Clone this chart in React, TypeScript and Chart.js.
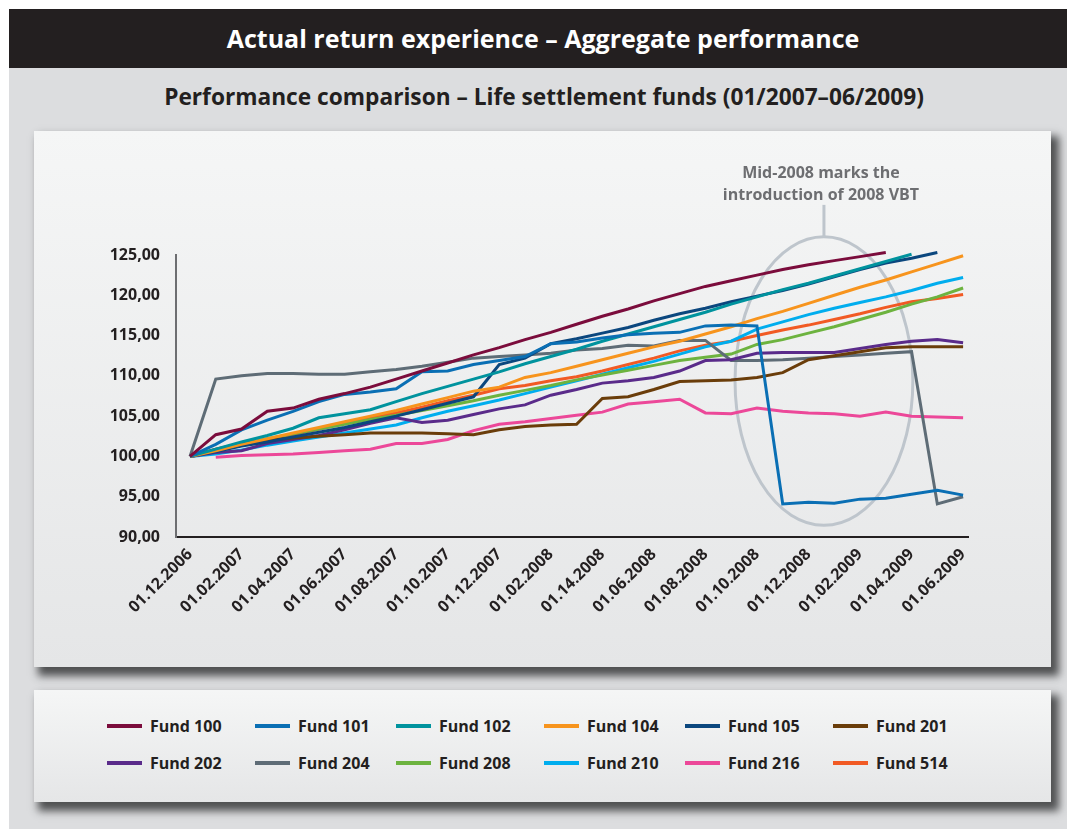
import React, { useEffect, useRef } from "react";
import { Chart, registerables } from "chart.js";

Chart.register(...registerables);

// ---------- data ----------
const months = [
  "01.12.2006", "01.01.2007", "01.02.2007", "01.03.2007", "01.04.2007", "01.05.2007",
  "01.06.2007", "01.07.2007", "01.08.2007", "01.09.2007", "01.10.2007", "01.11.2007",
  "01.12.2007", "01.01.2008", "01.02.2008", "01.03.2008", "01.04.2008", "01.05.2008",
  "01.06.2008", "01.07.2008", "01.08.2008", "01.09.2008", "01.10.2008", "01.11.2008",
  "01.12.2008", "01.01.2009", "01.02.2009", "01.03.2009", "01.04.2009", "01.05.2009",
  "01.06.2009",
];

const xTickValues = [0, 2, 4, 6, 8, 10, 12, 14, 16, 18, 20, 22, 24, 26, 28, 30];
const xTickLabels = [
  "01.12.2006", "01.02.2007", "01.04.2007", "01.06.2007", "01.08.2007", "01.10.2007",
  "01.12.2007", "01.02.2008", "01.14.2008", "01.06.2008", "01.08.2008", "01.10.2008",
  "01.12.2008", "01.02.2009", "01.04.2009", "01.06.2009",
];
const yTickValues = [90, 95, 100, 105, 110, 115, 120, 125];

const fundNames = [
  "Fund 100", "Fund 101", "Fund 102", "Fund 104", "Fund 105", "Fund 201",
  "Fund 202", "Fund 204", "Fund 208", "Fund 210", "Fund 216", "Fund 514",
];

const fund100 = [100, 102.7, 103.4, 105.6, 106.0, 107.1, 107.8, 108.6, 109.6, 110.6, 111.6, 112.6, 113.5, 114.5, 115.4, 116.4, 117.4, 118.3, 119.3, 120.2, 121.1, 121.8, 122.5, 123.2, 123.8, 124.3, 124.8, 125.3, null, null, null];
const fund101 = [100, 101.5, 103.3, 104.5, 105.6, 106.8, 107.7, 108.0, 108.4, 110.5, 110.6, 111.4, 111.9, 112.4, 114.0, 114.2, 114.7, 115.1, 115.3, 115.4, 116.2, 116.3, 116.2, 94.1, 94.3, 94.2, 94.7, 94.8, 95.3, 95.8, 95.2];
const fund102 = [100, 100.9, 101.8, 102.6, 103.5, 104.8, 105.3, 105.8, 106.8, 107.8, 108.7, 109.6, 110.5, 111.5, 112.4, 113.3, 114.3, 115.2, 116.1, 117.0, 117.9, 118.9, 119.8, 120.7, 121.5, 122.4, 123.3, 124.2, 125.1, null, null];
const fund104 = [100, 100.7, 101.5, 102.2, 102.9, 103.6, 104.3, 105.0, 105.7, 106.5, 107.3, 108.1, 108.6, 109.8, 110.4, 111.2, 112.0, 112.8, 113.6, 114.3, 115.2, 116.1, 117.1, 118.0, 119.0, 120.0, 121.0, 121.9, 122.9, 123.9, 124.9];
const fund105 = [100, 100.6, 101.3, 101.8, 102.4, 103.0, 103.6, 104.3, 105.0, 105.8, 106.6, 107.4, 111.4, 112.2, 114.0, 114.6, 115.3, 116.0, 116.9, 117.7, 118.4, 119.2, 119.9, 120.6, 121.4, 122.3, 123.2, 124.0, 124.6, 125.3, null];
const fund201 = [100, 100.9, 101.6, 102.0, 102.3, 102.5, 102.7, 102.9, 102.9, 102.9, 102.8, 102.7, 103.3, 103.7, 103.9, 104.0, 107.2, 107.4, 108.3, 109.3, 109.4, 109.5, 109.8, 110.4, 112.0, 112.5, 113.0, 113.5, 113.6, 113.6, 113.6];
const fund202 = [100, 100.5, 100.7, 101.6, 102.1, 102.6, 103.3, 104.1, 104.8, 104.2, 104.5, 105.2, 105.9, 106.4, 107.6, 108.3, 109.1, 109.4, 109.8, 110.6, 111.9, 112.0, 112.8, 112.9, 112.9, 112.9, 113.4, 113.9, 114.3, 114.5, 114.1];
const fund204 = [100, 109.6, 110.0, 110.3, 110.3, 110.2, 110.2, 110.5, 110.8, 111.2, 111.7, 112.2, 112.4, 112.6, 112.8, 113.2, 113.4, 113.8, 113.7, 114.4, 114.4, 111.9, 111.9, 112.0, 112.2, 112.4, 112.6, 112.8, 113.0, 94.1, 95.0];
const fund208 = [100, 100.8, 101.5, 102.2, 102.8, 103.4, 104.0, 104.6, 105.1, 105.7, 106.3, 106.9, 107.6, 108.2, 108.8, 109.5, 110.1, 110.7, 111.3, 111.9, 112.3, 112.7, 113.9, 114.5, 115.3, 116.1, 117.0, 117.9, 118.9, 119.8, 120.9];
const fund210 = [100, 100.3, 100.8, 101.4, 101.9, 102.4, 102.9, 103.4, 103.9, 104.8, 105.6, 106.3, 107.0, 107.8, 108.6, 109.4, 110.2, 111.0, 111.8, 112.7, 113.6, 114.3, 115.8, 116.7, 117.6, 118.4, 119.1, 119.8, 120.6, 121.5, 122.2];
const fund216 = [null, 99.9, 100.1, 100.2, 100.3, 100.5, 100.7, 100.9, 101.6, 101.6, 102.1, 103.2, 104.0, 104.3, 104.7, 105.1, 105.5, 106.5, 106.8, 107.1, 105.4, 105.3, 106.0, 105.6, 105.4, 105.3, 105.0, 105.5, 105.0, 104.9, 104.8];
const fund514 = [100, 100.7, 101.4, 102.0, 102.7, 103.4, 104.1, 104.8, 105.4, 106.1, 106.9, 107.6, 108.4, 108.8, 109.4, 109.9, 110.6, 111.4, 112.2, 113.1, 113.8, 114.3, 115.0, 115.7, 116.3, 117.0, 117.7, 118.5, 119.2, 119.6, 120.1];

const fundSeries = [fund100, fund101, fund102, fund104, fund105, fund201, fund202, fund204, fund208, fund210, fund216, fund514];

// annotation (in data units)
const noteCenter = { month: 24.6, value: 109.35 };
const noteRadius = { months: 3.45, value: 17.9 };
const noteLines = ["Mid-2008 marks the", "introduction of 2008 VBT"];

// ---------- styles ----------
const fundColors = [
  "#7b0c3c", "#0a6fb4", "#00939e", "#f7941d", "#0b477e", "#6a3d0a",
  "#5a2b8a", "#5e6c76", "#6db33f", "#00adee", "#ec4899", "#f15a24",
];
const FONT = "'Open Sans', 'DejaVu Sans', sans-serif";
const TEXT = "#231f20";

const notePlugin = {
  id: "vbtNote",
  beforeDatasetsDraw(chart: any) {
    const { ctx, scales } = chart;
    const xs = scales.x;
    const ys = scales.y;
    const cx = xs.getPixelForValue(noteCenter.month);
    const cy = ys.getPixelForValue(noteCenter.value);
    const rx = Math.abs(xs.getPixelForValue(noteCenter.month + noteRadius.months) - cx);
    const ry = Math.abs(ys.getPixelForValue(noteCenter.value + noteRadius.value) - cy);
    ctx.save();
    ctx.strokeStyle = "#bec5cc";
    ctx.lineWidth = 3;
    ctx.beginPath();
    ctx.ellipse(cx, cy, rx, ry, 0, 0, Math.PI * 2);
    ctx.stroke();
    const top = cy - ry;
    ctx.beginPath();
    ctx.moveTo(cx, top);
    ctx.lineTo(cx, top - 32);
    ctx.stroke();
    ctx.fillStyle = "#6d6e71";
    ctx.font = `bold 16px ${FONT}`;
    ctx.textAlign = "center";
    ctx.textBaseline = "middle";
    ctx.fillText(noteLines[0], cx - 3, top - 63);
    ctx.fillText(noteLines[1], cx - 3, top - 41);
    ctx.restore();
  },
};

function PerformanceChart() {
  const ref = useRef<HTMLCanvasElement | null>(null);
  useEffect(() => {
    if (!ref.current) return;
    const datasets = fundSeries.map((vals, i) => ({
      label: fundNames[i],
      data: vals.map((v, m) => ({ x: m, y: v })),
      borderColor: fundColors[i],
      backgroundColor: fundColors[i],
      borderWidth: 3,
      pointRadius: 0,
      tension: 0,
      fill: false,
      clip: false,
    }));
    const chart = new Chart(ref.current, {
      type: "line",
      data: { datasets },
      options: {
        animation: false,
        responsive: false,
        maintainAspectRatio: false,
        devicePixelRatio: 1,
        layout: { padding: { left: 0, right: 83, top: 124, bottom: 0 } },
        plugins: { legend: { display: false }, tooltip: { enabled: false } },
        scales: {
          x: {
            type: "linear",
            min: -0.543,
            max: 30.19,
            afterBuildTicks: (s: any) => {
              s.ticks = xTickValues.map((v) => ({ value: v }));
            },
            afterFit: (s: any) => {
              s.height = 130;
            },
            grid: { display: true, drawOnChartArea: false, drawTicks: false },
            border: { display: true, color: "#231f20", width: 2 },
            ticks: {
              autoSkip: false,
              minRotation: 45,
              maxRotation: 45,
              padding: 8,
              color: TEXT,
              font: { family: FONT, size: 16, weight: "bold" },
              callback: (v: any) => {
                const k = xTickValues.indexOf(Math.round(Number(v)));
                return k >= 0 ? xTickLabels[k] : "";
              },
            },
          },
          y: {
            min: 90,
            max: 125,
            afterBuildTicks: (s: any) => {
              s.ticks = yTickValues.map((v) => ({ value: v }));
            },
            afterFit: (s: any) => {
              s.width = 142;
            },
            grid: { display: true, drawOnChartArea: false, drawTicks: false },
            border: { display: true, color: "#6d6e71", width: 2 },
            ticks: {
              padding: 16,
              color: TEXT,
              font: { family: FONT, size: 16, weight: "bold" },
              callback: (v: any) => Number(v).toFixed(2).replace(".", ","),
            },
          },
        },
      },
      plugins: [notePlugin],
    } as any);
    return () => chart.destroy();
  }, []);
  return <canvas ref={ref} width={1017} height={536} style={{ display: "block" }} />;
}

const panelStyle: React.CSSProperties = {
  position: "absolute",
  left: 34,
  width: 1017,
  background: "linear-gradient(#f5f6f6, #e5e6e7)",
  boxShadow: "6px 7px 8px 2px rgba(45,46,48,0.8)",
};

const legendLeft = [73, 221, 362, 510, 651, 799];
const legendRowY = [36, 73];

export default function App() {
  return (
    <div
      style={{
        position: "absolute",
        left: 0,
        top: 0,
        width: 1067,
        height: 829,
        overflow: "hidden",
        background: "#ffffff",
        fontFamily: FONT,
      }}
    >
      <div style={{ position: "absolute", left: 9, top: 9, right: 0, bottom: 0, background: "#dcdddf" }} />
      <div style={{ position: "absolute", left: 9, top: 9, right: 0, height: 59, background: "#231f20" }} />
      <div
        style={{
          position: "absolute",
          left: 0,
          width: 1086,
          top: 9,
          height: 59,
          lineHeight: "59px",
          textAlign: "center",
          color: "#ffffff",
          fontWeight: 700,
          fontSize: 25,
        }}
      >
        Actual return experience – Aggregate performance
      </div>
      <div
        style={{
          position: "absolute",
          left: 0,
          width: 1088,
          top: 80,
          height: 34,
          lineHeight: "34px",
          textAlign: "center",
          color: TEXT,
          fontWeight: 700,
          fontSize: 22.7,
        }}
      >
        Performance comparison – Life settlement funds (01/2007–06/2009)
      </div>
      <div style={{ ...panelStyle, top: 131, height: 536 }}>
        <PerformanceChart />
      </div>
      <div style={{ ...panelStyle, top: 690, height: 112 }}>
        {fundNames.map((name, i) => {
          const col = i % 6;
          const row = Math.floor(i / 6);
          return (
            <div
              key={name}
              style={{
                position: "absolute",
                left: legendLeft[col],
                top: legendRowY[row] - 12,
                height: 24,
                display: "flex",
                alignItems: "center",
                whiteSpace: "nowrap",
              }}
            >
              <span style={{ display: "inline-block", width: 35, height: 4, background: fundColors[i], marginRight: 8 }} />
              <span style={{ fontSize: 16, fontWeight: 700, color: TEXT }}>{name}</span>
            </div>
          );
        })}
      </div>
    </div>
  );
}
